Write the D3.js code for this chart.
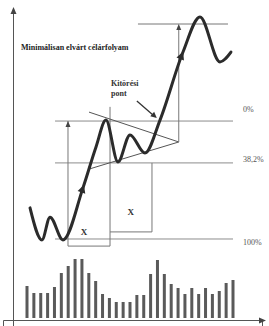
<!DOCTYPE html>
<html>
<head>
<meta charset="utf-8">
<script src="https://cdn.jsdelivr.net/npm/d3@7"></script>
<style>
  body { margin: 0; background: #fff; }
  svg { display: block; }
  text { font-family: "Liberation Serif", "DejaVu Serif", serif; }
</style>
</head>
<body>
<svg id="chart"></svg>
<script>
// forgalom (volumen) oszlopok
const volume = [32, 25, 25, 25, 31, 45, 52, 59, 59, 45, 37, 24, 20, 16, 16, 16,
  23, 23, 44, 58, 44, 34, 30, 24, 30, 24, 30, 24, 27, 35, 38];

// árfolyam görbe: [idő, ár]
const priceT = [0.44, 2.18, 3.35, 5.24, 8.15, 10.05, 11.5, 13.25, 15.0, 17.18, 19.37, 22.72, 25.19, 28.1, 29.7];
const priceP = [36.4, 26.0, 33.4, 26.0, 42.9, 56.2, 64.9, 51.3, 60.1, 54.2, 64.9, 87.0, 98.4, 83.8, 87.0];

// Fibonacci szintek
const levelNames = ["0%", "38,2%", "100%"];
const levelValues = [64.6, 51.0, 26.3];
const targetValue = 96.1;

// háromszög alakzat: kezdet és csúcs
const triStart = 9.03, triApex = 22.1;
const triUpper = 67.5, triLower = 49.0, apexValue = 57.8;

const width = 269, height = 326;
const svg = d3.select('#chart').attr('width', width).attr('height', height);

const x = d3.scaleLinear().domain([0, 30]).range([27, 233]);
const y = d3.scaleLinear().domain([0, 100]).range([320, 12]);
const vy = d3.scaleLinear().domain([0, 60]).range([318, 258]);

const grey = '#8c8c8c', dark = '#2b2b2b';

function arrowHead(px, py, angle, len, half, color) {
  const a = angle, c = Math.cos(a), s = Math.sin(a);
  const bx = px - c * len, by = py - s * len;
  const pts = [[px, py], [bx - s * half, by + c * half], [bx + s * half, by - c * half]];
  svg.append('path').attr('d', 'M' + pts.join('L') + 'Z').attr('fill', color);
}

// tengelyek
svg.append('g').attr('transform', 'translate(13,0)')
  .call(d3.axisLeft(d3.scaleLinear().range([326, 10])).tickValues([]).tickSizeOuter(0))
  .select('.domain').attr('stroke', '#555');
svg.append('g').attr('transform', 'translate(0,320)')
  .call(d3.axisBottom(d3.scaleLinear().range([3, 262])).tickValues([])).select('.domain').attr('stroke', '#555');
arrowHead(13.5, 7, -Math.PI / 2, 7, 3, '#444');
arrowHead(266, 320.5, 0, 7, 3, '#444');

// volumen
svg.selectAll('rect.vol').data(volume).join('rect').attr('class', 'vol')
  .attr('x', (d, i) => x(i) - 1.5).attr('width', 3)
  .attr('y', d => vy(d)).attr('height', d => vy(0) - vy(d))
  .attr('fill', '#5a5a5a');

// szint vonalak
svg.selectAll('line.level').data(levelValues).join('line').attr('class', 'level')
  .attr('x1', x(4.08)).attr('x2', x(30))
  .attr('y1', d => y(d)).attr('y2', d => y(d))
  .attr('stroke', grey).attr('stroke-width', 1);
const labelDy = [-9, -1, 6];
svg.selectAll('text.level').data(levelNames).join('text').attr('class', 'level')
  .attr('x', 243).attr('y', (d, i) => y(levelValues[i]) + labelDy[i])
  .attr('font-size', 8).attr('fill', '#555').text(d => d);

// célárfolyam vonal
svg.append('line').attr('x1', x(16.16)).attr('x2', x(29.27))
  .attr('y1', y(targetValue)).attr('y2', y(targetValue))
  .attr('stroke', '#777').attr('stroke-width', 1);

// X dobozok
const box = [
  [[5.97, levelValues[0]], [5.97, 24.0], [12.09, 24.0], [12.09, 69.2]],
  [[12.09, 28.6], [18.2, 28.6], [18.2, levelValues[1]]]
];
svg.selectAll('path.box').data(box).join('path').attr('class', 'box')
  .attr('d', d3.line().x(d => x(d[0])).y(d => y(d[1])))
  .attr('fill', 'none').attr('stroke', '#777').attr('stroke-width', 1);
arrowHead(x(5.97), y(levelValues[0]), -Math.PI / 2, 6, 2.5, '#444');

svg.selectAll('text.x').data([[8.3, 27.6], [15.1, 34.2]]).join('text').attr('class', 'x')
  .attr('x', d => x(d[0])).attr('y', d => y(d[1]))
  .attr('text-anchor', 'middle').attr('font-size', 9).attr('font-weight', 'bold')
  .attr('fill', '#333').text('X');

// háromszög
svg.append('path')
  .attr('d', d3.line().x(d => x(d[0])).y(d => y(d[1]))([[triStart, triUpper], [triApex, apexValue], [triStart, triLower]]))
  .attr('fill', 'none').attr('stroke', '#555').attr('stroke-width', 1);
svg.append('line').attr('x1', x(triApex)).attr('x2', x(triApex))
  .attr('y1', y(apexValue)).attr('y2', y(targetValue) + 2)
  .attr('stroke', '#777').attr('stroke-width', 1);
arrowHead(x(triApex), y(targetValue), -Math.PI / 2, 6, 2.5, '#444');

// árfolyam
const pts = priceT.map((t, i) => [x(t), y(priceP[i])]);
const pricePath = svg.append('path')
  .attr('d', d3.line().curve(d3.curveMonotoneX)(pts))
  .attr('fill', 'none').attr('stroke', dark).attr('stroke-width', 3)
  .attr('stroke-linecap', 'round').attr('stroke-linejoin', 'round');

function arrowOnPath(tx) {
  const node = pricePath.node(), total = node.getTotalLength();
  let best = 0;
  for (let l = 0; l < total; l += 0.5) {
    const p = node.getPointAtLength(l);
    if (Math.abs(p.x - tx) < Math.abs(node.getPointAtLength(best).x - tx) && p.y < 200 || (best === 0 && Math.abs(p.x - tx) < 0.5)) best = l;
  }
  const p1 = node.getPointAtLength(best), p0 = node.getPointAtLength(best - 4);
  arrowHead(p1.x, p1.y, Math.atan2(p1.y - p0.y, p1.x - p0.x), 8, 4, dark);
}
arrowOnPath(x(8.3));
arrowOnPath(x(22.75));

// kitörési pont nyíl
svg.append('line').attr('x1', x(16.0)).attr('y1', y(71.1)).attr('x2', x(18.6)).attr('y2', y(66.1))
  .attr('stroke', '#333').attr('stroke-width', 1.3);
arrowHead(x(18.9), y(65.6), Math.atan2(y(65.6) - y(71.1), x(18.9) - x(16.0)), 6, 3, '#333');

// feliratok
svg.append('text').attr('x', 21).attr('y', 50).attr('font-size', 8).attr('font-weight', 'bold')
  .attr('fill', '#222').text('Minimálisan elvárt célárfolyam');
svg.append('text').attr('x', 111).attr('y', 86).attr('font-size', 8).attr('font-weight', 'bold')
  .attr('fill', '#333').text('Kitörési');
svg.append('text').attr('x', 111).attr('y', 96).attr('font-size', 8).attr('font-weight', 'bold')
  .attr('fill', '#333').text('pont');
</script>
</body>
</html>
